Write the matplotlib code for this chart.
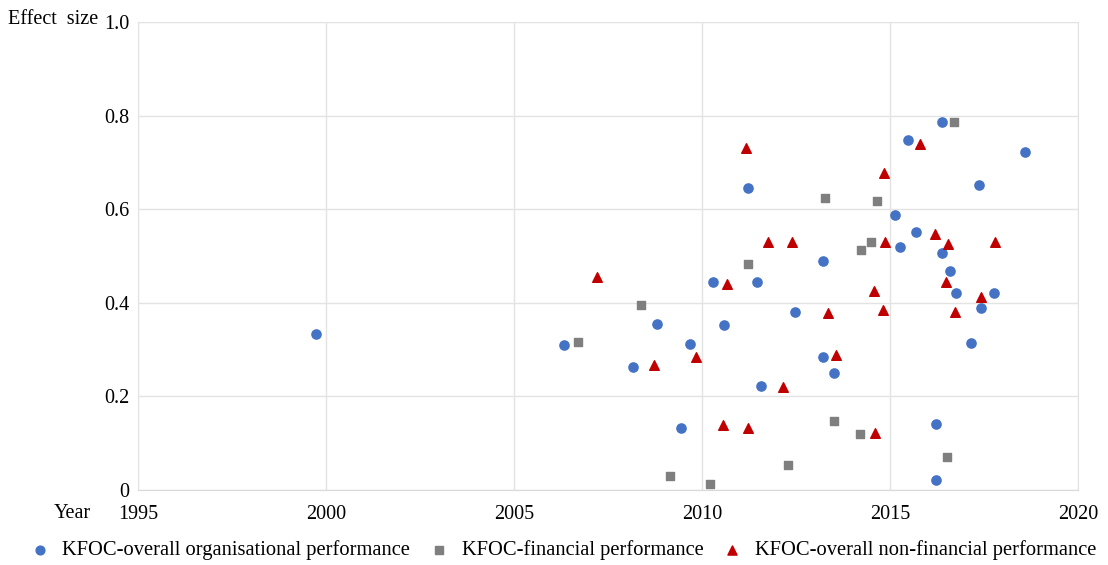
import matplotlib
matplotlib.use('Agg')
import matplotlib.pyplot as plt

# Data (year, effect size)
org_year = [1999.73, 2006.33, 2008.16, 2008.79, 2009.43, 2009.68, 2010.29, 2010.59,
            2011.22, 2011.46, 2011.58, 2012.47, 2013.22, 2013.22, 2013.52, 2015.13,
            2015.26, 2015.49, 2015.70, 2016.22, 2016.22, 2016.38, 2016.38, 2016.60,
            2016.76, 2017.14, 2017.36, 2017.41, 2017.77, 2018.60]
org_eff = [0.333, 0.310, 0.263, 0.355, 0.132, 0.313, 0.444, 0.353,
           0.645, 0.444, 0.223, 0.381, 0.489, 0.285, 0.251, 0.587,
           0.519, 0.749, 0.551, 0.141, 0.022, 0.786, 0.506, 0.467,
           0.420, 0.314, 0.651, 0.390, 0.420, 0.723]

fin_year = [2006.71, 2008.39, 2009.16, 2010.22, 2011.22, 2012.29, 2013.28,
            2013.51, 2014.19, 2014.22, 2014.49, 2014.66, 2016.52, 2016.70]
fin_eff = [0.317, 0.395, 0.029, 0.012, 0.484, 0.054, 0.625,
           0.148, 0.119, 0.513, 0.531, 0.618, 0.071, 0.786]

nonfin_year = [2007.21, 2008.72, 2009.83, 2010.55, 2010.67, 2011.18, 2011.21, 2011.75,
               2012.14, 2012.38, 2013.36, 2013.55, 2014.56, 2014.59, 2014.81, 2014.83,
               2014.87, 2015.79, 2016.20, 2016.49, 2016.53, 2016.73, 2017.41, 2017.79]
nonfin_eff = [0.456, 0.268, 0.284, 0.140, 0.440, 0.730, 0.132, 0.529,
              0.221, 0.531, 0.378, 0.288, 0.425, 0.122, 0.385, 0.678,
              0.531, 0.739, 0.548, 0.445, 0.526, 0.380, 0.412, 0.531]

x_ticks = [1995, 2000, 2005, 2010, 2015, 2020]
y_ticks = [0, 0.2, 0.4, 0.6, 0.8, 1.0]
y_labels = ['0', '0.2', '0.4', '0.6', '0.8', '1.0']

plt.rcParams['font.family'] = ['Liberation Serif', 'DejaVu Serif']
plt.rcParams['font.size'] = 14.5

fig = plt.figure(figsize=(11.08, 5.65), dpi=100)
ax = fig.add_axes([0.1245, 0.1327, 0.8485, 0.8283])

ax.scatter(org_year, org_eff, s=44, marker='o', color='#4472C4', zorder=3,
           label='KFOC-overall organisational performance')
ax.scatter(fin_year, fin_eff, s=40, marker='s', color='#7F7F7F', zorder=3,
           label='KFOC-financial performance')
ax.scatter(nonfin_year, nonfin_eff, s=48, marker='^', color='#C00000', zorder=3,
           label='KFOC-overall non-financial performance')

ax.set_xlim(1995, 2020)
ax.set_ylim(0, 1.0)
ax.set_xticks(x_ticks)
ax.set_yticks(y_ticks)
ax.set_yticklabels(y_labels)
ax.grid(True, color='#E3E3E3', linewidth=1.0)
ax.set_axisbelow(True)
for sp in ax.spines.values():
    sp.set_color('#E3E3E3')
ax.spines['bottom'].set_color('#D9D9D9')
ax.tick_params(length=0, labelsize=14.5)
ax.tick_params(axis='x', pad=11)
ax.tick_params(axis='y', pad=6)

# axis captions placed beside the first tick labels
fig.text(98 / 1108, 1 - 20 / 565, 'Effect  size', ha='right', va='center', fontsize=14.5)
fig.text(91 / 1108, 1 - 513 / 565, 'Year', ha='right', va='center', fontsize=14.5)

fig.legend(loc='center', bbox_to_anchor=(0.509, 1 - 550 / 565), ncol=3, frameon=False,
           fontsize=14.8, handlelength=0.8, handletextpad=0.7, columnspacing=1.0,
           markerscale=0.95)

fig.savefig('out.png', dpi=100)
